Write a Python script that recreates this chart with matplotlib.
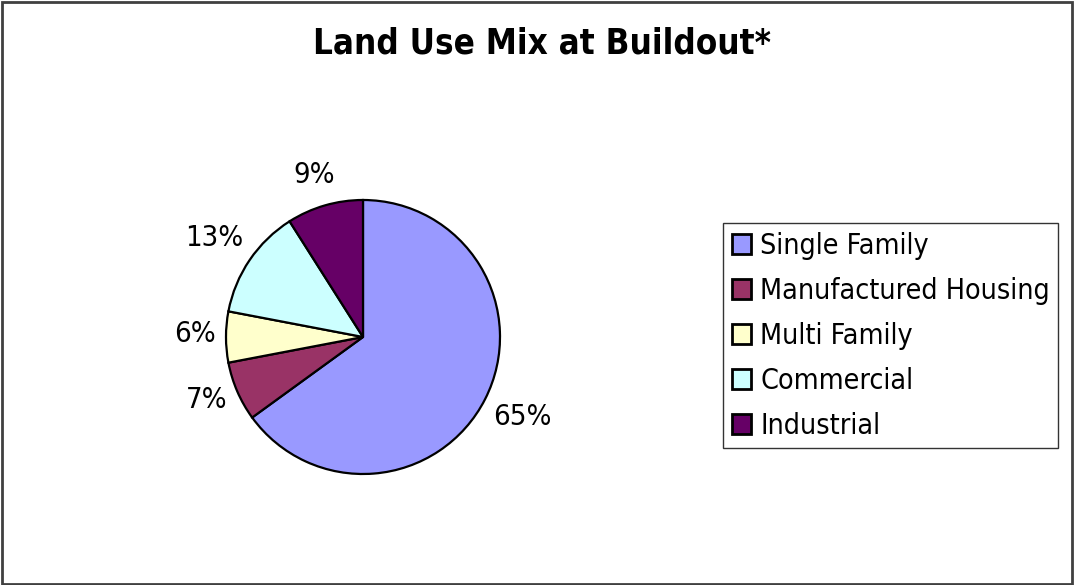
import matplotlib
matplotlib.use("Agg")
import matplotlib.pyplot as plt
from matplotlib.patches import Rectangle

# land use shares at buildout
categories = ["Single Family", "Manufactured Housing", "Multi Family", "Commercial", "Industrial"]
shares = [65, 7, 6, 13, 9]
colors = ["#9999FF", "#993366", "#FFFFCC", "#CCFFFF", "#660066"]

W, H = 1074, 585
fig = plt.figure(figsize=(W / 100, H / 100), dpi=100)
plt.rcParams['font.family'] = ['DejaVu Sans']
plt.rcParams['font.stretch'] = 'condensed'

# outer chart border
fig.patches.append(Rectangle((0.002, 0.002), 0.996, 0.995, transform=fig.transFigure,
                             fill=False, edgecolor="#404040", linewidth=2))

fig.text(542 / W, 1 - 44 / H, "Land Use Mix at Buildout*", ha="center", va="center",
         fontsize=25, fontweight="bold")

# pie centred at (363, 337) px, radius 137 px
cx, cy, R = 363, 337, 137
box = 420
ax = fig.add_axes([(cx - box / 2) / W, 1 - (cy + box / 2) / H, box / W, box / H])
wedges, texts, autotexts = ax.pie(
    shares, colors=colors, startangle=90, counterclock=False,
    autopct="%d%%", pctdistance=1.28,
    wedgeprops=dict(edgecolor="black", linewidth=1.6),
    textprops=dict(fontsize=21))

# small per-label shifts (in radius units) so labels sit like Excel's best fit
label_nudge = [(0.02, 0.0), (0.03, 0.045), (0.05, 0.02), (-0.03, 0.0), (0.0, -0.045)]
for t, (dx, dy) in zip(autotexts, label_nudge):
    x, y = t.get_position()
    t.set_position((x + dx, y + dy))

lim = box / 2 / R
ax.set_xlim(-lim, lim)
ax.set_ylim(-lim, lim)
ax.set_aspect("equal")

leg = fig.legend(wedges, categories, loc="upper left",
                 bbox_to_anchor=(723 / W, 1 - 223 / H), fontsize=20.5,
                 frameon=True, fancybox=False, edgecolor="black",
                 handlelength=0.7, handleheight=0.7, handletextpad=0.3,
                 labelspacing=0.6, borderpad=0.3, borderaxespad=0)
leg.get_frame().set_linewidth(1.0)
for h in leg.legend_handles:
    h.set_linewidth(2)

fig.savefig("out.png", dpi=100)
